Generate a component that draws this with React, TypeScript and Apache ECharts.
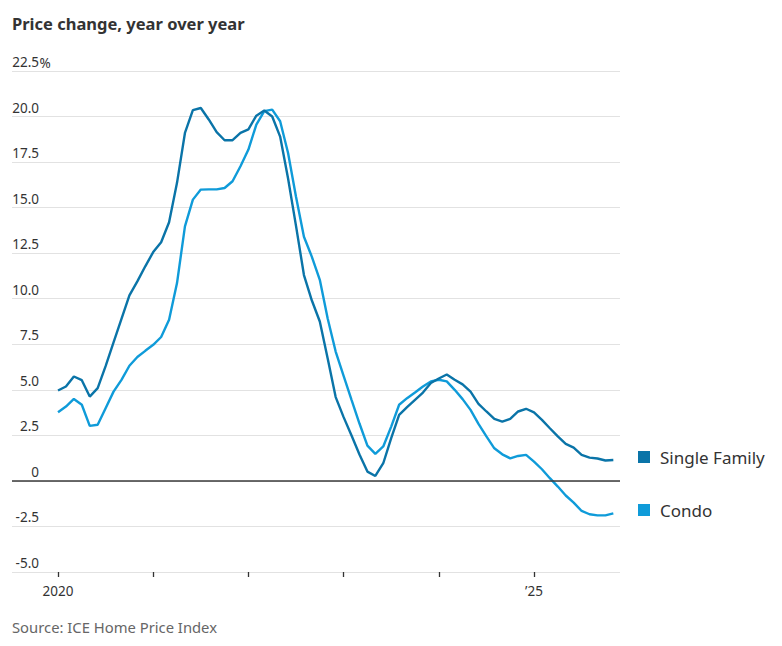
import React, { useEffect, useRef } from "react";
import * as echarts from "echarts";

// Month index 0 = Jan 2020, 70 = Nov 2025
const monthIndex: number[] = Array.from({ length: 71 }, (_, i) => i);

const singleFamily: number[] = [
  4.96, 5.18, 5.73, 5.53, 4.63, 5.09, 6.3, 7.6, 8.9, 10.18, 10.95, 11.78,
  12.56, 13.1, 14.2, 16.36, 19.1, 20.35, 20.47, 19.84, 19.14, 18.7, 18.7, 19.1,
  19.3, 20.05, 20.33, 20.0, 18.9, 16.6, 14.0, 11.3, 9.9, 8.75, 6.7, 4.6,
  3.5, 2.49, 1.45, 0.51, 0.27, 0.97, 2.35, 3.63, 4.05, 4.45, 4.85, 5.37,
  5.62, 5.84, 5.55, 5.3, 4.9, 4.23, 3.81, 3.4, 3.26, 3.4, 3.81, 3.96,
  3.76, 3.35, 2.89, 2.44, 2.03, 1.83, 1.43, 1.28, 1.23, 1.12, 1.15,
];

const condo: number[] = [
  3.77, 4.08, 4.5, 4.18, 3.02, 3.08, 3.99, 4.9, 5.55, 6.32, 6.8, 7.14,
  7.47, 7.9, 8.85, 10.86, 13.97, 15.44, 15.99, 16.0, 16.0, 16.08, 16.45, 17.27,
  18.19, 19.56, 20.3, 20.38, 19.74, 18.0, 15.6, 13.4, 12.3, 11.04, 8.9, 7.1,
  5.77, 4.45, 3.15, 1.94, 1.48, 1.89, 2.98, 4.18, 4.54, 4.85, 5.18, 5.46,
  5.55, 5.46, 5.0, 4.49, 3.9, 3.13, 2.44, 1.79, 1.46, 1.24, 1.37, 1.43,
  1.06, 0.64, 0.15, -0.31, -0.8, -1.19, -1.65, -1.83, -1.89, -1.89, -1.78,
];

const seriesNames: string[] = ["Single Family", "Condo"];
const xTickValues: number[] = [0, 12, 24, 36, 48, 60];
const xLabelValues: number[] = [0, 60];
const xLabelTexts: string[] = ["2020", "\u201925"];

const SANS = "'Noto Sans', 'Open Sans', sans-serif";

export default function App() {
  const ref = useRef<HTMLDivElement>(null);

  useEffect(() => {
    document.body.style.margin = "0";
    if (!ref.current) return;
    const chart = echarts.init(ref.current, undefined, { renderer: "svg" });

    const option: any = {
      animation: false,
      backgroundColor: "#ffffff",
      grid: { left: 12, right: 162, top: 71, bottom: 74 },
      legend: {
        orient: "vertical",
        left: 638,
        top: 447,
        padding: 0,
        itemGap: 33,
        itemWidth: 12,
        itemHeight: 12,
        icon: "rect",
        selectedMode: false,
        data: seriesNames,
        textStyle: {
          fontFamily: SANS,
          fontSize: 17,
          lineHeight: 20,
          color: "#333333",
          padding: [0, 0, 0, 5],
        },
      },
      xAxis: {
        type: "value",
        min: -5.8,
        max: 70.84,
        axisLine: { show: false, onZero: false },
        splitLine: { show: false },
        axisTick: {
          show: true,
          customValues: xTickValues,
          length: 5,
          lineStyle: { color: "#333333", width: 1.3 },
        },
        axisLabel: {
          customValues: xLabelValues,
          margin: 12,
          fontFamily: SANS,
          fontSize: 13.5,
          lineHeight: 14,
          color: "#333333",
          formatter: (v: number) => {
            const idx = xLabelValues.indexOf(v);
            return idx >= 0 ? xLabelTexts[idx] : "";
          },
        },
      },
      yAxis: {
        type: "value",
        min: -5,
        max: 22.5,
        interval: 2.5,
        axisLine: { show: false },
        axisTick: { show: false },
        splitLine: { lineStyle: { color: "#e2e2e2", width: 1 } },
        axisLabel: {
          inside: true,
          margin: 27,
          align: "right",
          verticalAlign: "bottom",
          padding: [0, 0, 2, 0],
          fontFamily: SANS,
          fontSize: 13.5,
          lineHeight: 14,
          color: "#333333",
          formatter: (v: number) => (v === 0 ? "0" : v.toFixed(1)),
        },
      },
      series: [
        {
          name: seriesNames[0],
          type: "line",
          data: monthIndex.map((m, i) => [m, singleFamily[i]]),
          symbol: "none",
          color: "#0a74a8",
          lineStyle: { width: 2.4, color: "#0a74a8" },
          z: 3,
          markLine: {
            silent: true,
            symbol: ["none", "none"],
            label: { show: false },
            lineStyle: { color: "#3a3a3a", width: 1.5, type: "solid" },
            data: [{ yAxis: 0 }],
          },
        },
        {
          name: seriesNames[1],
          type: "line",
          data: monthIndex.map((m, i) => [m, condo[i]]),
          symbol: "none",
          color: "#0f9bd9",
          lineStyle: { width: 2.4, color: "#0f9bd9" },
          z: 2,
        },
      ],
      graphic: [
        {
          type: "text",
          left: 12,
          top: 15,
          style: {
            text: "Price change, year over year",
            font: `bold 16.5px ${SANS}`,
            fill: "#333333",
          },
        },
        {
          type: "text",
          x: 39.5,
          y: 63,
          style: {
            text: "%",
            font: `13.5px ${SANS}`,
            fill: "#333333",
            verticalAlign: "middle",
          },
        },
        {
          type: "text",
          x: 12,
          y: 627,
          style: {
            text: "Source: ICE Home Price Index",
            font: `14.8px ${SANS}`,
            fill: "#666666",
            verticalAlign: "middle",
          },
        },
      ],
    };

    chart.setOption(option);
    return () => chart.dispose();
  }, []);

  return <div ref={ref} style={{ width: 782, height: 646 }} />;
}
